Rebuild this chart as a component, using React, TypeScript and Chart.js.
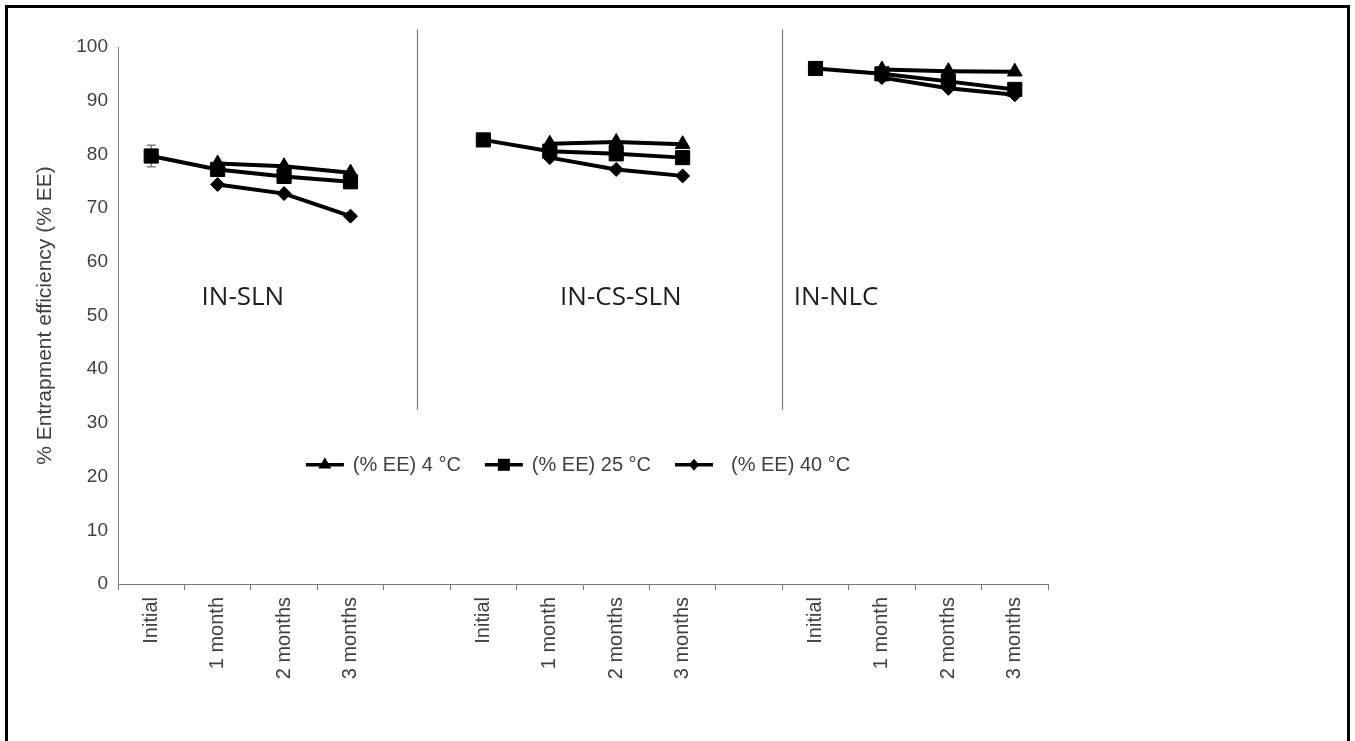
import { useEffect, useRef } from 'react';
import { Chart, registerables } from 'chart.js';

Chart.register(...registerables);

// ---- data ----
const categories = [
  'Initial', '1 month', '2 months', '3 months', '',
  'Initial', '1 month', '2 months', '3 months', '',
  'Initial', '1 month', '2 months', '3 months',
];
const ee4 = [null, 78.3, 77.8, 76.6, null, null, 82.0, 82.3, 81.9, null, null, 95.8, 95.5, 95.4];
const ee25 = [79.7, 77.2, 75.9, 74.9, null, 82.7, 80.6, 80.1, 79.4, null, 96.0, 95.0, 93.6, 92.1];
const ee40 = [null, 74.4, 72.7, 68.5, null, null, 79.4, 77.2, 76.0, null, null, 94.3, 92.3, 91.1];
const err25 = [2.0, 0, 0, 0, 0, 0, 0, 0, 0, 0, 0, 0, 0, 0];
const seriesLabels = ['(% EE) 4 °C', '(% EE) 25 °C', '(% EE) 40 °C'];
const seriesStyles = ['triangle', 'rect', 'rectRot'];
const groupLabels = ['IN-SLN', 'IN-CS-SLN', 'IN-NLC'];
const groupLabelIndex = [1.38, 7.07, 10.31];
const groupLabelValue = 53.4;
const separatorIndex = [4, 9.5];
const separatorRange = [32.4, 103.3];
const legendValue = 22.2;
const yTitle = '% Entrapment efficiency (% EE)';

const AXIS_FONT = 'Liberation Sans, Arial, sans-serif';
const TEXT_COLOR = '#404040';

function drawMarker(ctx: CanvasRenderingContext2D, style: string, x: number, y: number, r: number) {
  ctx.beginPath();
  if (style === 'triangle') {
    ctx.moveTo(x, y - r);
    ctx.lineTo(x + r * 0.866, y + r * 0.5);
    ctx.lineTo(x - r * 0.866, y + r * 0.5);
  } else if (style === 'rect') {
    const s = r * 0.7071;
    ctx.rect(x - s, y - s, 2 * s, 2 * s);
  } else {
    ctx.moveTo(x, y - r);
    ctx.lineTo(x + r * 0.85, y);
    ctx.lineTo(x, y + r);
    ctx.lineTo(x - r * 0.85, y);
  }
  ctx.closePath();
  ctx.fill();
}

const errorBarPlugin = {
  id: 'errorBars',
  beforeDatasetsDraw(chart: any) {
    const { ctx, scales } = chart;
    const x = scales.x;
    const y = scales.y;
    ctx.save();
    ctx.strokeStyle = '#7f7f7f';
    ctx.lineWidth = 1.5;
    ee25.forEach((v, i) => {
      const e = err25[i];
      if (v == null || !e) return;
      const px = x.getPixelForValue(i);
      const top = y.getPixelForValue(v + e);
      const bot = y.getPixelForValue(v - e);
      ctx.beginPath();
      ctx.moveTo(px, top);
      ctx.lineTo(px, bot);
      ctx.moveTo(px - 4.5, top);
      ctx.lineTo(px + 4.5, top);
      ctx.moveTo(px - 4.5, bot);
      ctx.lineTo(px + 4.5, bot);
      ctx.stroke();
    });
    ctx.restore();
  },
};

const annotationPlugin = {
  id: 'annotations',
  afterDraw(chart: any) {
    const { ctx, scales, chartArea } = chart;
    const x = scales.x;
    const y = scales.y;
    ctx.save();
    // separators
    ctx.strokeStyle = '#808080';
    ctx.lineWidth = 1.2;
    separatorIndex.forEach((idx) => {
      const px = Math.round(x.getPixelForValue(idx)) + 0.5;
      ctx.beginPath();
      ctx.moveTo(px, y.getPixelForValue(separatorRange[1]));
      ctx.lineTo(px, y.getPixelForValue(separatorRange[0]));
      ctx.stroke();
    });
    // group labels
    ctx.fillStyle = '#1e1e1e';
    ctx.font = '26px "Open Sans", sans-serif';
    ctx.textAlign = 'center';
    ctx.textBaseline = 'middle';
    groupLabels.forEach((t, i) => {
      ctx.fillText(t, x.getPixelForValue(groupLabelIndex[i]), y.getPixelForValue(groupLabelValue));
    });
    // legend
    ctx.font = `20px ${AXIS_FONT}`;
    const lineLen = 38;
    const textGaps = [9, 9, 18];
    const itemGap = 24;
    const widths = seriesLabels.map((t) => ctx.measureText(t).width);
    const total =
      widths.reduce((a, w, i) => a + lineLen + textGaps[i] + w, 0) + itemGap * (seriesLabels.length - 1);
    const cx = (chartArea.left + chartArea.right) / 2 - 5;
    let lx = cx - total / 2;
    const ly = y.getPixelForValue(legendValue);
    const markerR = [7.5, 8.5, 6];
    seriesLabels.forEach((t, i) => {
      ctx.strokeStyle = '#000';
      ctx.lineWidth = 3.5;
      ctx.beginPath();
      ctx.moveTo(lx, ly);
      ctx.lineTo(lx + lineLen, ly);
      ctx.stroke();
      ctx.fillStyle = '#000';
      drawMarker(ctx, seriesStyles[i], lx + lineLen / 2, ly, markerR[i]);
      ctx.fillStyle = TEXT_COLOR;
      ctx.textAlign = 'left';
      ctx.textBaseline = 'middle';
      ctx.fillText(t, lx + lineLen + textGaps[i], ly + 1);
      lx += lineLen + textGaps[i] + widths[i] + itemGap;
    });
    ctx.restore();
  },
};

export default function App() {
  const ref = useRef<HTMLCanvasElement>(null);
  useEffect(() => {
    const canvas = ref.current;
    if (!canvas) return;
    const mk = (i: number, data: (number | null)[], radius: number) => ({
      label: seriesLabels[i],
      data,
      borderColor: '#000',
      backgroundColor: '#000',
      borderWidth: 4,
      pointStyle: seriesStyles[i] as any,
      pointRadius: radius,
      pointBorderWidth: 1,
      pointBackgroundColor: '#000',
      pointBorderColor: '#000',
      spanGaps: false,
      tension: 0,
    });
    const chart = new Chart(canvas, {
      type: 'line',
      data: {
        labels: categories,
        datasets: [mk(0, ee4, 8.5), mk(1, ee25, 10), mk(2, ee40, 7)],
      },
      options: {
        animation: false,
        responsive: true,
        maintainAspectRatio: false,
        layout: { padding: { left: 29, top: 47, right: 307, bottom: 7 } },
        plugins: { legend: { display: false }, tooltip: { enabled: false } },
        scales: {
          x: {
            type: 'category',
            offset: true,
            grid: { offset: true, drawOnChartArea: false, drawTicks: true, tickLength: 6, color: '#7a7a7a', lineWidth: 1 },
            border: { color: '#7a7a7a', width: 1 },
            ticks: {
              autoSkip: false,
              minRotation: 90,
              maxRotation: 90,
              padding: 7,
              color: TEXT_COLOR,
              font: { family: AXIS_FONT, size: 20 },
            },
            afterFit: (s: any) => {
              s.height = 150;
            },
          },
          y: {
            min: 0,
            max: 100,
            grid: { drawOnChartArea: false, drawTicks: false },
            border: { color: '#7a7a7a', width: 1 },
            ticks: { stepSize: 10, padding: 10, color: TEXT_COLOR, font: { family: AXIS_FONT, size: 19 } },
            title: { display: true, text: yTitle, color: TEXT_COLOR, font: { family: AXIS_FONT, size: 21 } },
            afterFit: (s: any) => {
              s.width = 89;
            },
          },
        },
      },
      plugins: [errorBarPlugin, annotationPlugin],
    });
    return () => chart.destroy();
  }, []);

  return (
    <>
      <div
        style={{
          position: 'fixed',
          left: 5,
          top: 5,
          width: 1345,
          height: 800,
          boxSizing: 'border-box',
          border: '3px solid #000',
          background: '#fff',
        }}
      />
      <div style={{ position: 'fixed', left: 0, top: 0, width: 1355, height: 741 }}>
        <canvas ref={ref} />
      </div>
    </>
  );
}
